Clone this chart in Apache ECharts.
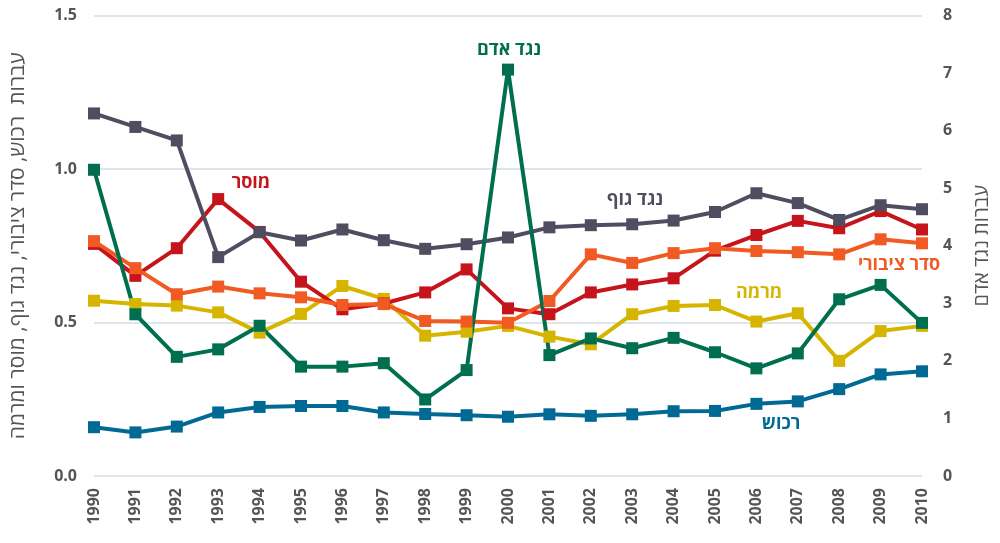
<!DOCTYPE html>
<html><head><meta charset="utf-8">
<script src="https://cdn.jsdelivr.net/npm/echarts@6/dist/echarts.min.js"></script>
<style>html,body{margin:0;padding:0;background:#fff}#c{width:1000px;height:543px}</style>
</head><body><div id="c"></div>
<script>
const years = ['1990','1991','1992','1993','1994','1995','1996','1997','1998','1999','2000','2001','2002','2003','2004','2005','2006','2007','2008','2009','2010'];
const leftTicks = ['0.0','0.5','1.0','1.5'];
const rechush = [0.159,0.142,0.161,0.207,0.225,0.228,0.228,0.207,0.202,0.198,0.193,0.201,0.196,0.201,0.211,0.212,0.235,0.243,0.283,0.331,0.341];
const seder = [0.765,0.677,0.592,0.617,0.595,0.582,0.557,0.560,0.505,0.503,0.499,0.570,0.722,0.694,0.726,0.742,0.733,0.729,0.722,0.771,0.758];
const neged_guf = [1.181,1.137,1.093,0.713,0.794,0.767,0.803,0.768,0.740,0.755,0.777,0.810,0.817,0.820,0.832,0.860,0.921,0.889,0.834,0.882,0.869];
const musar = [0.756,0.652,0.742,0.902,0.795,0.633,0.543,0.562,0.598,0.673,0.546,0.527,0.598,0.624,0.644,0.734,0.785,0.831,0.807,0.863,0.803];
const mirma = [0.571,0.560,0.555,0.533,0.467,0.528,0.619,0.577,0.457,0.470,0.489,0.454,0.429,0.527,0.554,0.557,0.503,0.530,0.375,0.472,0.489];
const neged_adam = [5.32,2.81,2.07,2.20,2.61,1.90,1.90,1.96,1.33,1.84,7.06,2.10,2.39,2.22,2.40,2.15,1.87,2.13,3.07,3.32,2.66];

const chart = echarts.init(document.getElementById('c'), null, {renderer:'canvas'});
const FONT = '"Open Sans", "Noto Sans", sans-serif';
function ser(name, data, color, yIdx) {
  return {name, type:'line', data, yAxisIndex:yIdx||0, symbol:'rect', symbolSize:12,
    lineStyle:{color, width:4}, itemStyle:{color}, animation:false, z:2};
}
function lab(text, x, y, color) {
  return {type:'text', x:x, y:y, z:10, style:{text, fill:color, font:'bold 18px '+FONT, textAlign:'center', textVerticalAlign:'middle'}};
}
chart.setOption({
  animation:false,
  textStyle:{fontFamily:FONT},
  grid:{left:89, right:71, top:15.5, bottom:67},
  xAxis:{type:'category', data:years, boundaryGap:false,
    axisLine:{show:false}, axisTick:{show:false},
    axisLabel:{rotate:90, color:'#555', fontSize:16, fontWeight:'bold', margin:12, fontFamily:FONT}},
  yAxis:[
    {type:'value', min:0, max:1.5, interval:0.5,
     name:'עברות  רכוש, סדר ציבורי, נגד גוף, מוסר ומרמה', nameLocation:'middle', nameGap:65,
     nameTextStyle:{color:'#555', fontSize:21, fontFamily:FONT},
     axisLine:{show:false}, axisTick:{show:false},
     axisLabel:{color:'#555', fontSize:16, fontWeight:'bold', margin:17, formatter:v=>leftTicks[Math.round(v/0.5)], fontFamily:FONT},
     splitLine:{lineStyle:{color:'#dde6ec', width:2}}},
    {type:'value', min:0, max:8, interval:1,
     name:'עברות נגד אדם', nameLocation:'middle', nameGap:50,
     nameTextStyle:{color:'#555', fontSize:20, fontFamily:FONT},
     axisLine:{show:false}, axisTick:{show:false},
     axisLabel:{color:'#555', fontSize:16, fontWeight:'bold', margin:21, fontFamily:FONT},
     splitLine:{show:false}}
  ],
  series:[
    ser('רכוש', rechush, '#006a94'),
    ser('מרמה', mirma, '#d6b500'),
    ser('מוסר', musar, '#c6141d'),
    ser('סדר ציבורי', seder, '#f15a22'),
    ser('נגד גוף', neged_guf, '#4f4e60'),
    ser('נגד אדם', neged_adam, '#006f4f', 1)
  ],
  graphic:[
    lab('נגד אדם', 509, 50, '#006f4f'),
    lab('מוסר', 251, 183, '#c6141d'),
    lab('נגד גוף', 635, 200, '#4f4e60'),
    lab('סדר ציבורי', 899, 265, '#f15a22'),
    lab('מרמה', 759, 293, '#d6b500'),
    lab('רכוש', 781, 424, '#006a94')
  ]
});
</script></body></html>
